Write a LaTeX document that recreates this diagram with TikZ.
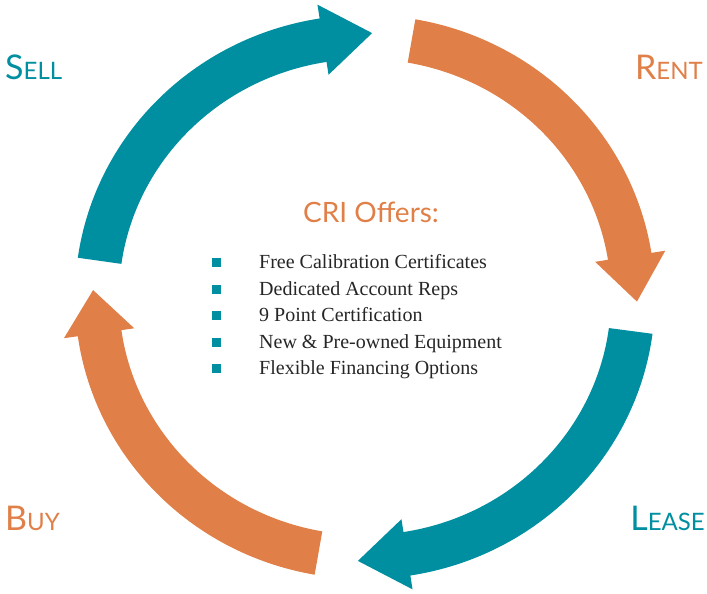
\documentclass[tikz,border=0pt]{standalone}
\usepackage{fontspec}
\setmainfont{Liberation Serif}
\newfontfamily\labelfont{Lato}
\definecolor{cteal}{RGB}{0,143,160}
\definecolor{corange}{RGB}{224,128,72}

% small caps by hand: big first letter, smaller capitals after it
\newcommand{\capword}[2]{{\fontsize{34}{34}\selectfont #1}{\fontsize{24}{24}\selectfont #2}}

% ring arrow: colour, tail angle, head base angle, tip angle
\newcommand{\ringarrow}[4]{%
  \fill[#1] ({290*cos(#2)},{282*sin(#2)})
    arc[start angle=#2, end angle=#3, x radius=290pt, y radius=282pt]
    -- ({304*cos(#3)},{296*sin(#3)})
    -- ({272*cos(#4)},{264*sin(#4)})
    -- ({233*cos(#3)},{225*sin(#3)})
    -- ({246*cos(#3)},{238*sin(#3)})
    arc[start angle=#3, end angle=#2, x radius=246pt, y radius=238pt]
    -- cycle;}

\begin{document}
\begin{tikzpicture}[
    x=1pt, y=1pt,
    lbl/.style={inner sep=0pt, font=\labelfont},
    bullet/.style={fill=cteal, minimum size=9pt, inner sep=0pt},
    item/.style={inner sep=0pt, font=\fontsize{20}{20}\selectfont, text=black!85}
]
\useasboundingbox (-365,-297) rectangle (342,297);

\ringarrow{cteal}{172}{99}{88.5}
\ringarrow{corange}{80}{9}{-1}
\ringarrow{cteal}{-7.5}{-81}{-91.5}
\ringarrow{corange}{-100}{-172}{-181.5}

\node[lbl, text=cteal, anchor=base west] (sell) at (-360,217) {\capword{S}{ELL}};
\node[lbl, text=corange, anchor=base east] (rent) at (338,217) {\capword{R}{ENT}};
\node[lbl, text=cteal, anchor=base east] (lease) at (340,-233) {\capword{L}{EASE}};
\node[lbl, text=corange, anchor=base west] (buy) at (-360,-233) {\capword{B}{UY}};

\node[lbl, text=corange, anchor=base west, font=\labelfont\fontsize{28}{28}\selectfont] (title) at (-62,74) {CRI Offers:};

\foreach \txt [count=\i] in {Free Calibration Certificates, Dedicated Account Reps,
    9 Point Certification, New \& Pre-owned Equipment, Flexible Financing Options} {
  \node[bullet] (b\i) at (-148,{34-26.5*(\i-1)}) {};
  \node[item, anchor=base west] (t\i) at (-106,{28-26.5*(\i-1)}) {\txt};
}

\end{tikzpicture}
\end{document}
